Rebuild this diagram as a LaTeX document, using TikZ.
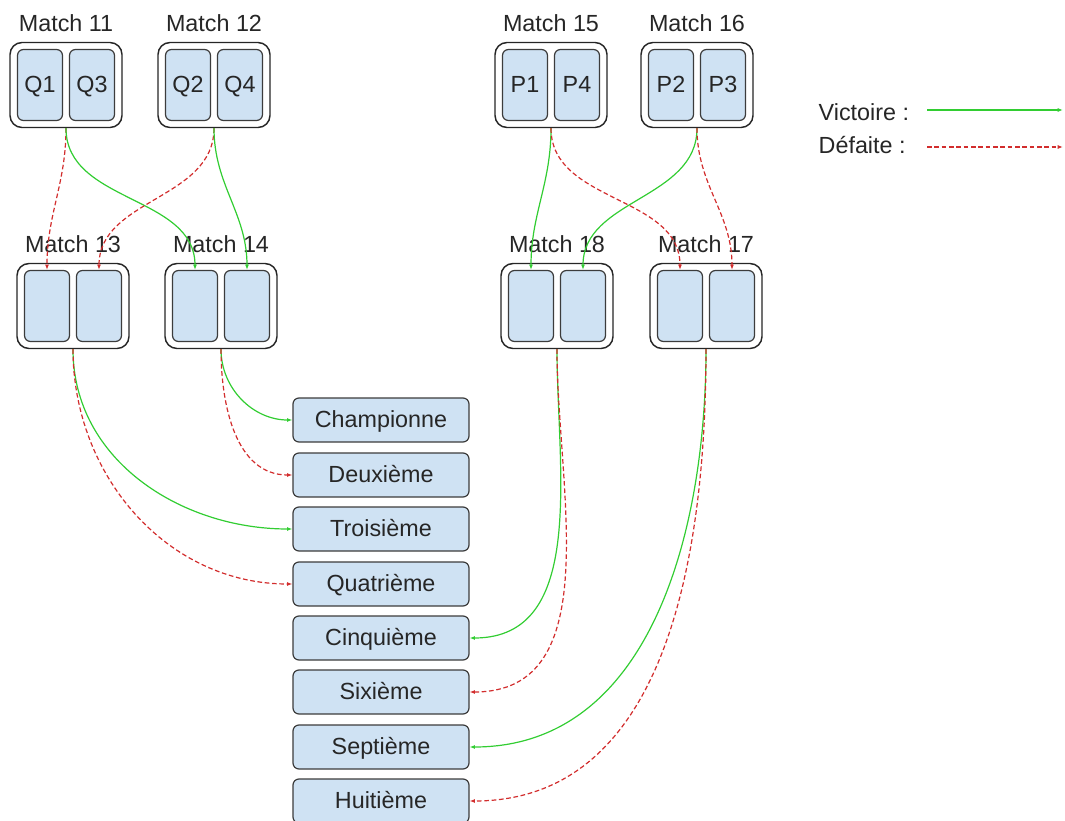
\documentclass[tikz,border=0pt]{standalone}
\usepackage{fontspec}
\setmainfont{Liberation Sans}
\usetikzlibrary{arrows.meta}
\definecolor{slotblue}{RGB}{207,226,243}
\definecolor{edgegray}{RGB}{60,60,60}
\definecolor{wingreen}{RGB}{50,205,50}
\definecolor{lossred}{RGB}{210,45,45}
\begin{document}
\begin{tikzpicture}[x=0.75pt,y=0.75pt,
    every node/.style={font=\fontsize{17.5}{20}\selectfont,text=black!85},
    matchbox/.style={draw=black!85,line width=1.1pt,fill=white,rounded corners=9pt,
        minimum width=84pt,minimum height=63.75pt,inner sep=0pt},
    slot/.style={draw=edgegray,line width=0.9pt,fill=slotblue,rounded corners=4.5pt,
        minimum width=33.75pt,minimum height=53.25pt,inner sep=0pt,
        text height=11.5pt,text depth=0pt},
    rank/.style={slot,minimum width=132pt,minimum height=33pt},
    win/.style={wingreen,line width=0.9pt,-{Latex[length=4pt,width=3pt]}},
    loss/.style={lossred,line width=0.9pt,dash pattern=on 3.5pt off 2pt,
        -{Latex[length=4pt,width=3pt]}}]
  \useasboundingbox (0,0) rectangle (1065,-821);
  % matches
  \foreach \n/\x/\y/\a/\b in {11/66/85/Q1/Q3, 12/214/85/Q2/Q4,
      15/551/85/P1/P4, 16/697/85/P2/P3, 13/73/306/{}/{},
      14/221/306/{}/{}, 18/557/306/{}/{}, 17/706/306/{}/{}}{
    \begin{scope}[shift={(\x,-\y)}]
      \node[matchbox] (m\n) at (0,0) {};
      \node[slot] (l\n) at (-26,0) {\a};
      \node[slot] (r\n) at (26,0) {\b};
      \node (t\n) at (0,62) {Match \n};
    \end{scope}
  }
  % final ranking
  \foreach \n/\y/\t in {1/420/Championne, 2/475/Deuxième, 3/529/Troisième,
      4/584/Quatrième, 5/638/Cinquième, 6/692/Sixième, 7/747/Septième,
      8/801/Huitième}
    \node[rank] (rang\n) at (381,-\y) {\t};
  % first round
  \draw[loss] (m11.south) to[out=-90,in=90] (l13.north);
  \draw[win] (m11.south) to[out=-90,in=90] (l14.north);
  \draw[loss] (m12.south) to[out=-90,in=90] (r13.north);
  \draw[win] (m12.south) to[out=-90,in=90] (r14.north);
  \draw[win] (m15.south) to[out=-90,in=90] (l18.north);
  \draw[loss] (m15.south) to[out=-90,in=90] (l17.north);
  \draw[win] (m16.south) to[out=-90,in=90] (r18.north);
  \draw[loss] (m16.south) to[out=-90,in=90] (r17.north);
  % places
  \draw[win] (m14.south) to[out=-90,in=180] (rang1.west);
  \draw[loss] (m14.south) to[out=-90,in=180] (rang2.west);
  \draw[win] (m13.south) to[out=-90,in=180] (rang3.west);
  \draw[loss] (m13.south) to[out=-90,in=180] (rang4.west);
  \draw[win] (m18.south) to[out=-90,in=0] (rang5.east);
  \draw[loss] (m18.south) to[out=-90,in=0] (rang6.east);
  \draw[win] (m17.south) to[out=-90,in=0] (rang7.east);
  \draw[loss] (m17.south) to[out=-90,in=0] (rang8.east);
  % legend
  \node[anchor=west] (vic) at (814,-112) {Victoire :};
  \node[anchor=west] (def) at (814,-145) {Défaite :};
  \coordinate (vicA) at (927,-110);
  \coordinate (vicB) at (1063,-110);
  \coordinate (defA) at (927,-147);
  \coordinate (defB) at (1063,-147);
  \draw[win] (vicA) -- (vicB);
  \draw[loss] (defA) -- (defB);
\end{tikzpicture}
\end{document}
